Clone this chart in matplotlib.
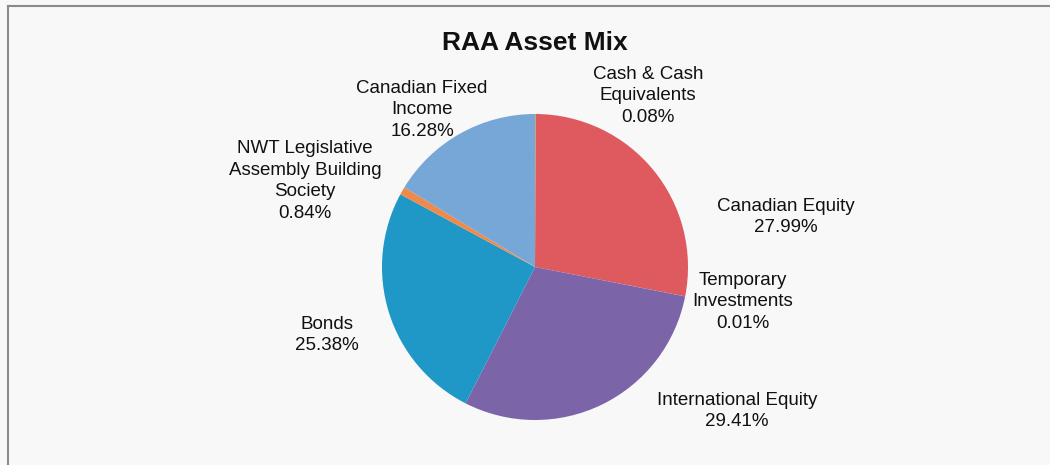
import matplotlib
matplotlib.use("Agg")
import matplotlib.pyplot as plt
from matplotlib.lines import Line2D

plt.rcParams['font.family'] = ['Liberation Sans', 'DejaVu Sans']

title = "RAA Asset Mix"
categories = ["Cash & Cash\nEquivalents", "Canadian Equity", "Temporary\nInvestments",
              "International Equity", "Bonds", "NWT Legislative\nAssembly Building\nSociety",
              "Canadian Fixed\nIncome"]
values = [0.08, 27.99, 0.01, 29.41, 25.38, 0.84, 16.28]
colors = ["#9BBB59", "#DF5A5E", "#4BACC6", "#7C64A8", "#1F97C7", "#F08A4B", "#76A7D7"]

# label centres in pixel coordinates (x, y from top)
label_pos = [(648, 96), (786, 217), (743, 302), (737, 411), (327, 335), (305, 181), (422, 110)]

W, H = 1050, 465
fig = plt.figure(figsize=(W / 100, H / 100), dpi=100)
fig.patch.set_facecolor("#F8F8F8")
ax = fig.add_axes([0, 0, 1, 1])

cx, cy, r = 535, H - 267, 153
ax.pie(values, colors=colors, startangle=90, counterclock=False,
       center=(cx, cy), radius=r, frame=True,
       wedgeprops=dict(linewidth=0))
ax.set_xlim(0, W)
ax.set_ylim(0, H)
ax.set_aspect("equal")
ax.axis("off")

for cat, v, (x, y) in zip(categories, values, label_pos):
    ax.text(x, H - y, f"{cat}\n{v:.2f}%", ha="center", va="center",
            fontsize=13.5, color="#111111", linespacing=1.36)

ax.text(535, H - 43, title, ha="center", va="center", fontsize=19,
        fontweight="bold", color="#111111")

# frame lines (top and left)
ax.add_line(Line2D([7.5, W], [H - 6.5, H - 6.5], color="#8A8A8A", lw=1.5))
ax.add_line(Line2D([7.5, 7.5], [0, H - 6.5], color="#8A8A8A", lw=1.5))

fig.savefig("out.png", dpi=100, facecolor=fig.get_facecolor())
